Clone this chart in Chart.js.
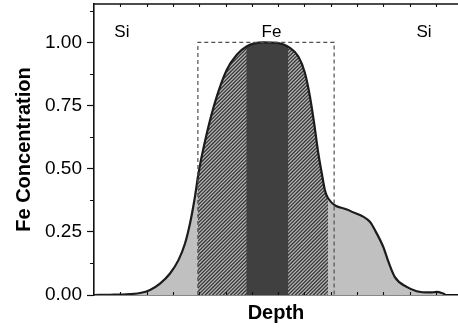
<!DOCTYPE html>
<html>
<head>
<meta charset="utf-8">
<script src="https://cdn.jsdelivr.net/npm/chart.js@4.4.0/dist/chart.umd.min.js"></script>
<style>
  html, body { margin: 0; padding: 0; background: #fff; overflow: hidden; }
  #wrap { width: 458px; height: 329px; }
</style>
</head>
<body>
<div id="wrap"><canvas id="chart" width="458" height="329"></canvas></div>
<script>
  "use strict";

  // Depth (arbitrary units, one unit per x tick) and Fe concentration
  const depthPos = [0, 0.61, 1.11, 1.75, 2.13, 2.51, 2.89, 3.21, 3.46, 3.65, 3.84, 3.97, 4.29, 4.67, 5.05,
    5.43, 5.80, 6.44, 6.95, 7.45, 7.77, 8.02, 8.21, 8.37, 8.53, 8.66, 8.78, 8.90, 9.70, 10.49, 10.68,
    11.00, 11.20, 11.44, 11.89, 12.27, 12.78, 13.03, 13.35];
  const feConc = [0, 0.001, 0.002, 0.008, 0.02, 0.045, 0.085, 0.138, 0.204, 0.283, 0.39, 0.48, 0.64,
    0.786, 0.892, 0.951, 0.984, 1.0, 0.998, 0.978, 0.944, 0.879, 0.786, 0.68, 0.56, 0.482, 0.415, 0.383,
    0.335, 0.29, 0.257, 0.19, 0.13, 0.071, 0.032, 0.015, 0.01, 0.012, 0.003];

  // dashed box marking the nominal Fe layer
  const boxX = [3.95, 3.95, 9.13, 9.13];
  const boxY = [0, 1, 1, 0];

  // shaded depth ranges
  const hatchRange = [3.95, 8.9];
  const coreRange = [5.79, 7.39];

  // region labels
  const regionLabels = ["Si", "Fe", "Si"];
  const regionLabelX = [1.06, 6.75, 12.55];
  const regionLabelY = 1.04;

  // tick values
  const yMajorTicks = [0, 0.25, 0.5, 0.75, 1.0];
  const yMinorTicks = [0.125, 0.375, 0.625, 0.875, 1.125];
  const xTicks = [1, 2, 3, 4, 5, 6, 7, 8, 9, 10, 11, 12, 13];

  const FONT = "'Liberation Sans', Arial, sans-serif";

  const profile = () => depthPos.map((d, i) => ({x: d, y: feConc[i]}));

  const fillCache = {};

  /**
   * Fill that only shows between two depth values (hatched or solid).
   * @param {Object} chart
   * @param {number[]} range
   * @param {string} kind
   * @return {CanvasPattern|string}
   */
  function bandFill(chart, range, kind) {
    const xs = chart.scales.x;
    if (!chart.chartArea || !xs) return "rgba(0,0,0,0)";
    const x1 = xs.getPixelForValue(range[0]);
    const x2 = xs.getPixelForValue(range[1]);
    const key = kind + x1.toFixed(1) + "_" + x2.toFixed(1);
    if (fillCache[key]) return fillCache[key];

    const off = document.createElement("canvas");
    off.width = chart.width;
    off.height = chart.height;
    const c = off.getContext("2d");
    const h = off.height;
    c.beginPath();
    c.rect(x1, 0, x2 - x1, h);
    c.clip();
    if (kind === "hatch") {
      c.fillStyle = "#b8b8b8";
      c.fillRect(x1, 0, x2 - x1, h);
      c.strokeStyle = "#363636";
      c.lineWidth = 1.3;
      for (let a = x1 - h; a < x2 + 4; a += 3.6) {
        c.beginPath();
        c.moveTo(a, h);
        c.lineTo(a + h, 0);
        c.stroke();
      }
    } else {
      c.fillStyle = "#404040";
      c.fillRect(x1, 0, x2 - x1, h);
    }
    const p = chart.ctx.createPattern(off, "no-repeat");
    fillCache[key] = p;
    return p;
  }

  // frame, inside ticks, minor y ticks and region labels
  const axisDecor = {
    id: "axisDecor",
    afterDraw(chart) {
      const {ctx, chartArea: a, scales: {x, y}} = chart;
      ctx.save();
      ctx.strokeStyle = "#111";
      ctx.lineWidth = 1.6;
      ctx.beginPath();
      ctx.moveTo(a.left - 0.8, a.top);
      ctx.lineTo(a.right, a.top);
      ctx.stroke();

      ctx.lineWidth = 1.1;
      ctx.beginPath();
      yMinorTicks.forEach((v) => {
        const py = Math.round(y.getPixelForValue(v)) + 0.5;
        ctx.moveTo(a.left - 4, py);
        ctx.lineTo(a.left, py);
      });
      xTicks.forEach((v) => {
        const px = Math.round(x.getPixelForValue(v)) + 0.5;
        ctx.moveTo(px, a.bottom);
        ctx.lineTo(px, a.bottom - 3);
        ctx.moveTo(px, a.top);
        ctx.lineTo(px, a.top + 3);
      });
      ctx.stroke();

      ctx.fillStyle = "#000";
      ctx.font = "17px " + FONT;
      ctx.textAlign = "center";
      ctx.textBaseline = "middle";
      regionLabels.forEach((t, i) => {
        ctx.fillText(t, x.getPixelForValue(regionLabelX[i]), y.getPixelForValue(regionLabelY));
      });
      ctx.restore();
    },
  };

  const ctxMain = document.getElementById("chart").getContext("2d");
  new Chart(ctxMain, {
    type: "line",
    data: {
      datasets: [
        {
          // dashed box
          data: boxX.map((v, i) => ({x: v, y: boxY[i]})),
          borderColor: "#505050",
          borderWidth: 1.2,
          borderDash: [4, 3],
          fill: false,
          tension: 0,
          pointRadius: 0,
          order: 0,
        },
        {
          // profile outline
          data: profile(),
          borderColor: "#1c1c1c",
          borderWidth: 2.2,
          fill: false,
          cubicInterpolationMode: "monotone",
          pointRadius: 0,
          order: 1,
        },
        {
          // solid core band
          data: profile(),
          borderWidth: 0,
          borderColor: "rgba(0,0,0,0)",
          backgroundColor: (c) => bandFill(c.chart, coreRange, "core"),
          fill: "origin",
          cubicInterpolationMode: "monotone",
          pointRadius: 0,
          order: 2,
        },
        {
          // hatched band
          data: profile(),
          borderWidth: 0,
          borderColor: "rgba(0,0,0,0)",
          backgroundColor: (c) => bandFill(c.chart, hatchRange, "hatch"),
          fill: "origin",
          cubicInterpolationMode: "monotone",
          pointRadius: 0,
          order: 3,
        },
        {
          // light grey area under the whole profile
          data: profile(),
          borderWidth: 0,
          borderColor: "rgba(0,0,0,0)",
          backgroundColor: "#c0c0c0",
          fill: "origin",
          cubicInterpolationMode: "monotone",
          pointRadius: 0,
          order: 4,
        },
      ],
    },
    options: {
      responsive: false,
      animation: false,
      events: [],
      layout: {padding: {top: 4, right: 0, left: 0, bottom: 0}},
      plugins: {legend: {display: false}, tooltip: {enabled: false}},
      scales: {
        x: {
          type: "linear",
          min: 0,
          max: 13.84,
          z: 1,
          grid: {display: false},
          border: {display: true, color: "#111", width: 1.6},
          ticks: {display: false},
          title: {
            display: true,
            text: "Depth",
            color: "#000",
            font: {family: FONT, size: 20, weight: "bold"},
            padding: {top: 0, bottom: 4},
          },
          afterFit: (s) => {
            s.height = 34;
            s.paddingLeft = 0;
            s.paddingRight = 0;
          },
        },
        y: {
          type: "linear",
          min: 0,
          max: 1.152,
          z: 1,
          afterBuildTicks: (s) => {
            s.ticks = yMajorTicks.map((v) => ({value: v}));
          },
          grid: {
            drawOnChartArea: false,
            drawTicks: true,
            tickLength: 7,
            tickColor: "#111",
            tickWidth: 1.2,
          },
          border: {display: true, color: "#111", width: 1.6},
          ticks: {
            padding: 5,
            color: "#000",
            font: {family: FONT, size: 19},
            callback: (v) => Number(v).toFixed(2),
          },
          title: {
            display: true,
            text: "Fe Concentration",
            color: "#000",
            font: {family: FONT, size: 20, weight: "bold"},
            padding: {top: 12, bottom: 0},
          },
          afterFit: (s) => {
            s.width = 94;
            s.paddingTop = 0;
            s.paddingBottom = 0;
          },
        },
      },
    },
    plugins: [axisDecor],
  });
</script>
</body>
</html>
